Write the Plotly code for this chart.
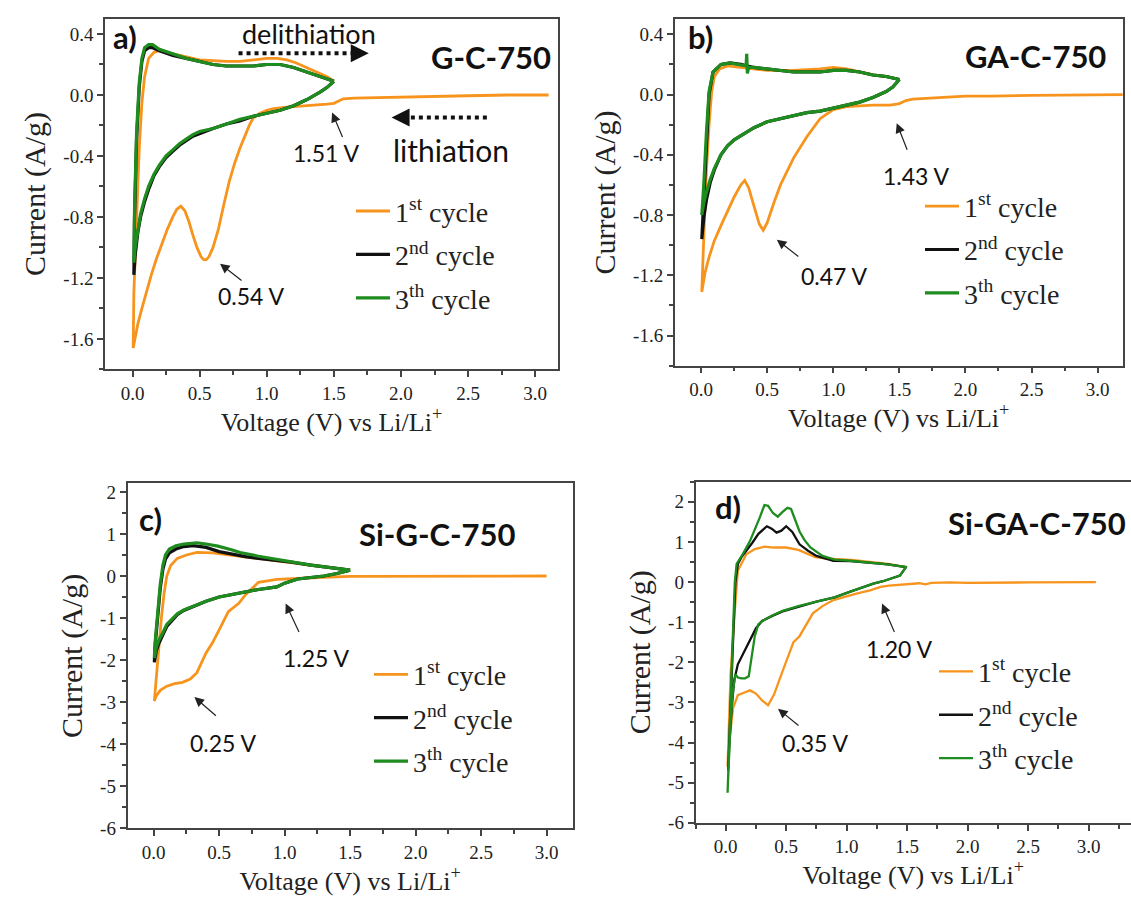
import plotly.graph_objects as go

# ---------------- data: cyclic voltammograms (V vs Li/Li+, A/g) ----------------
# a) G-C-750
a_c1_v = [3.10, 2.80, 2.50, 2.20, 2.00, 1.80, 1.65, 1.57, 1.53, 1.50, 1.45, 1.35, 1.25, 1.15, 1.05, 1.00,
          0.95, 0.90, 0.87, 0.84, 0.80, 0.76, 0.72, 0.68, 0.64, 0.60, 0.57, 0.55, 0.53, 0.51, 0.48, 0.45,
          0.42, 0.39, 0.36, 0.33, 0.30, 0.26, 0.22, 0.18, 0.14, 0.10, 0.07, 0.04, 0.02, 0.005,
          0.01, 0.03, 0.05, 0.07, 0.09, 0.12, 0.16, 0.20, 0.25, 0.30, 0.40, 0.50, 0.60, 0.70, 0.80,
          0.90, 1.00, 1.08, 1.15, 1.22, 1.30, 1.38, 1.45, 1.50]
a_c1_i = [0.00, 0.00, -0.005, -0.01, -0.01, -0.015, -0.02, -0.025, -0.04, -0.055, -0.06, -0.065, -0.07, -0.08,
          -0.09, -0.10, -0.12, -0.15, -0.20, -0.26, -0.35, -0.45, -0.57, -0.72, -0.88, -1.00, -1.06, -1.08,
          -1.08, -1.06, -1.00, -0.92, -0.83, -0.76, -0.73, -0.75, -0.80, -0.88, -0.97, -1.07, -1.18, -1.30,
          -1.40, -1.50, -1.58, -1.66,
          -1.30, -0.80, -0.35, -0.05, 0.12, 0.24, 0.28, 0.29, 0.28, 0.27, 0.25, 0.23, 0.225, 0.22, 0.22,
          0.23, 0.24, 0.24, 0.23, 0.21, 0.18, 0.15, 0.12, 0.09]
a_c2_v = [1.50, 1.45, 1.40, 1.30, 1.20, 1.10, 1.00, 0.90, 0.80, 0.70, 0.60, 0.50, 0.45, 0.40, 0.35, 0.30,
          0.25, 0.20, 0.16, 0.12, 0.09, 0.06, 0.04, 0.02, 0.01,
          0.015, 0.03, 0.05, 0.07, 0.09, 0.12, 0.15, 0.20, 0.30, 0.40, 0.50, 0.60, 0.70, 0.80, 0.90,
          1.00, 1.10, 1.20, 1.30, 1.40, 1.50]
a_c2_i = [0.09, 0.05, 0.02, -0.03, -0.07, -0.10, -0.12, -0.14, -0.17, -0.19, -0.22, -0.25, -0.27, -0.30,
          -0.33, -0.37, -0.41, -0.47, -0.53, -0.62, -0.70, -0.80, -0.90, -1.05, -1.18,
          -0.80, -0.30, 0.05, 0.22, 0.29, 0.31, 0.31, 0.29, 0.26, 0.24, 0.22, 0.20, 0.19, 0.19, 0.19,
          0.20, 0.20, 0.18, 0.15, 0.12, 0.09]
a_c3_v = [1.50, 1.45, 1.40, 1.30, 1.20, 1.10, 1.00, 0.90, 0.80, 0.70, 0.60, 0.50, 0.45, 0.40, 0.35, 0.30,
          0.25, 0.20, 0.16, 0.12, 0.09, 0.06, 0.04, 0.02, 0.01,
          0.015, 0.03, 0.05, 0.07, 0.09, 0.12, 0.15, 0.20, 0.30, 0.40, 0.50, 0.60, 0.70, 0.80, 0.90,
          1.00, 1.10, 1.20, 1.30, 1.40, 1.50]
a_c3_i = [0.09, 0.05, 0.02, -0.03, -0.07, -0.10, -0.12, -0.14, -0.16, -0.19, -0.22, -0.24, -0.26, -0.29,
          -0.32, -0.36, -0.40, -0.46, -0.52, -0.60, -0.68, -0.78, -0.88, -1.00, -1.10,
          -0.75, -0.25, 0.08, 0.24, 0.31, 0.33, 0.33, 0.30, 0.27, 0.24, 0.22, 0.20, 0.19, 0.19, 0.19,
          0.20, 0.20, 0.18, 0.15, 0.12, 0.09]

# b) GA-C-750
b_c1_v = [3.20, 2.80, 2.50, 2.20, 2.00, 1.80, 1.60, 1.55, 1.50, 1.43, 1.30, 1.10, 1.00, 0.90, 0.80, 0.70,
          0.60, 0.55, 0.50, 0.47, 0.44, 0.40, 0.36, 0.33, 0.30, 0.25, 0.20, 0.15, 0.10, 0.06, 0.03, 0.005,
          0.02, 0.04, 0.06, 0.08, 0.10, 0.14, 0.20, 0.30, 0.50, 0.70, 0.90, 1.00, 1.10, 1.20, 1.30, 1.40, 1.50]
b_c1_i = [0.00, 0.00, -0.005, -0.01, -0.01, -0.02, -0.03, -0.04, -0.06, -0.07, -0.07, -0.08, -0.10, -0.16,
          -0.28, -0.42, -0.60, -0.72, -0.85, -0.90, -0.86, -0.74, -0.62, -0.57, -0.60, -0.68, -0.77, -0.87,
          -0.97, -1.08, -1.18, -1.31,
          -0.95, -0.50, -0.20, 0.02, 0.12, 0.17, 0.19, 0.18, 0.16, 0.16, 0.17, 0.18, 0.17, 0.15, 0.13, 0.12, 0.10]
b_c2_v = [1.50, 1.45, 1.40, 1.30, 1.20, 1.10, 1.00, 0.90, 0.80, 0.70, 0.60, 0.50, 0.40, 0.30, 0.25, 0.20,
          0.15, 0.10, 0.07, 0.04, 0.02, 0.005,
          0.02, 0.04, 0.06, 0.09, 0.15, 0.22, 0.30, 0.40, 0.50, 0.70, 0.90, 1.00, 1.10, 1.20, 1.30, 1.40, 1.50]
b_c2_i = [0.10, 0.05, 0.02, -0.02, -0.05, -0.07, -0.09, -0.11, -0.12, -0.14, -0.16, -0.18, -0.22, -0.27,
          -0.30, -0.34, -0.40, -0.50, -0.58, -0.70, -0.82, -0.96,
          -0.70, -0.30, 0.00, 0.15, 0.20, 0.21, 0.20, 0.18, 0.17, 0.15, 0.15, 0.16, 0.16, 0.15, 0.13, 0.12, 0.10]
b_c3_v = [1.50, 1.45, 1.40, 1.30, 1.20, 1.10, 1.00, 0.90, 0.80, 0.70, 0.60, 0.50, 0.40, 0.30, 0.25, 0.20,
          0.15, 0.10, 0.07, 0.04, 0.02, 0.005,
          0.02, 0.04, 0.06, 0.09, 0.15, 0.22, 0.30, 0.34, 0.345, 0.35, 0.36, 0.40, 0.50, 0.70, 0.90, 1.00,
          1.10, 1.20, 1.30, 1.40, 1.50]
b_c3_i = [0.10, 0.05, 0.02, -0.02, -0.05, -0.07, -0.09, -0.11, -0.12, -0.14, -0.16, -0.18, -0.22, -0.27,
          -0.30, -0.34, -0.40, -0.49, -0.56, -0.65, -0.72, -0.80,
          -0.60, -0.25, 0.02, 0.15, 0.20, 0.21, 0.20, 0.19, 0.27, 0.14, 0.18, 0.18, 0.17, 0.15, 0.15, 0.16,
          0.16, 0.15, 0.13, 0.12, 0.10]

# c) Si-G-C-750
c_c1_v = [3.00, 2.50, 2.00, 1.80, 1.50, 1.30, 1.20, 1.10, 1.00, 0.94, 0.80, 0.70, 0.65, 0.57, 0.50, 0.45,
          0.40, 0.33, 0.28, 0.22, 0.16, 0.10, 0.05, 0.02, 0.005,
          0.02, 0.04, 0.06, 0.08, 0.10, 0.13, 0.18, 0.25, 0.33, 0.45, 0.60, 0.74, 0.90, 1.10, 1.30, 1.50]
c_c1_i = [0.00, 0.00, 0.00, -0.005, -0.01, -0.03, -0.04, -0.05, -0.06, -0.08, -0.15, -0.45, -0.65, -0.85,
          -1.28, -1.58, -1.83, -2.30, -2.45, -2.53, -2.56, -2.62, -2.72, -2.85, -2.97,
          -2.40, -1.70, -0.96, -0.40, 0.00, 0.25, 0.42, 0.50, 0.56, 0.55, 0.50, 0.44, 0.38, 0.30, 0.22, 0.14]
c_c2_v = [1.50, 1.40, 1.30, 1.20, 1.10, 1.00, 0.94, 0.80, 0.70, 0.60, 0.50, 0.40, 0.35, 0.30, 0.23, 0.18,
          0.13, 0.10, 0.07, 0.04, 0.02, 0.005,
          0.01, 0.03, 0.05, 0.07, 0.09, 0.12, 0.17, 0.23, 0.30, 0.40, 0.50, 0.60, 0.70, 0.80, 0.93, 1.05,
          1.20, 1.35, 1.50]
c_c2_i = [0.14, 0.06, 0.00, -0.03, -0.07, -0.17, -0.26, -0.32, -0.38, -0.44, -0.50, -0.60, -0.66, -0.73,
          -0.82, -0.92, -1.08, -1.20, -1.40, -1.60, -1.78, -2.05,
          -1.70, -1.00, -0.30, 0.15, 0.40, 0.55, 0.64, 0.70, 0.72, 0.68, 0.58, 0.52, 0.46, 0.42, 0.38, 0.33,
          0.26, 0.20, 0.14]
c_c3_v = [1.50, 1.40, 1.30, 1.20, 1.10, 1.00, 0.94, 0.80, 0.70, 0.60, 0.50, 0.40, 0.35, 0.30, 0.23, 0.18,
          0.13, 0.10, 0.07, 0.04, 0.02, 0.005,
          0.01, 0.03, 0.05, 0.07, 0.09, 0.12, 0.17, 0.23, 0.33, 0.40, 0.49, 0.60, 0.66, 0.80, 0.93, 1.05,
          1.20, 1.35, 1.50]
c_c3_i = [0.14, 0.06, 0.00, -0.03, -0.07, -0.17, -0.26, -0.32, -0.38, -0.44, -0.50, -0.60, -0.66, -0.73,
          -0.81, -0.90, -1.05, -1.15, -1.35, -1.52, -1.70, -1.95,
          -1.60, -0.90, -0.20, 0.25, 0.50, 0.64, 0.72, 0.76, 0.79, 0.76, 0.71, 0.62, 0.56, 0.47, 0.40, 0.34,
          0.26, 0.20, 0.14]

# d) Si-GA-C-750
d_c1_v = [3.06, 2.90, 2.50, 2.00, 1.85, 1.70, 1.65, 1.60, 1.55, 1.45, 1.35, 1.28, 1.20, 1.08, 0.89, 0.80,
          0.72, 0.61, 0.56, 0.46, 0.40, 0.35, 0.30, 0.25, 0.20, 0.15, 0.10, 0.06, 0.03, 0.015,
          0.04, 0.075, 0.10, 0.17, 0.24, 0.32, 0.40, 0.50, 0.60, 0.74, 0.85, 1.04, 1.20, 1.34, 1.49]
d_c1_i = [0.00, 0.00, -0.01, -0.02, -0.01, -0.02, -0.06, -0.03, -0.04, -0.06, -0.09, -0.12, -0.20, -0.29,
          -0.45, -0.60, -0.78, -1.35, -1.50, -2.30, -2.80, -3.07, -2.95, -2.78, -2.70, -2.76, -2.82, -3.15,
          -3.97, -4.60,
          -2.30, -0.70, 0.28, 0.69, 0.82, 0.88, 0.86, 0.86, 0.80, 0.62, 0.58, 0.55, 0.50, 0.45, 0.37]
d_c2_v = [1.49, 1.44, 1.30, 1.22, 1.03, 0.90, 0.75, 0.60, 0.47, 0.38, 0.30, 0.25, 0.20, 0.15, 0.12, 0.10,
          0.07, 0.05, 0.03, 0.02,
          0.04, 0.06, 0.08, 0.10, 0.13, 0.17, 0.22, 0.27, 0.34, 0.38, 0.42, 0.46, 0.50, 0.55, 0.61, 0.68,
          0.75, 0.89, 1.03, 1.20, 1.34, 1.49]
d_c2_i = [0.37, 0.16, 0.02, -0.04, -0.24, -0.38, -0.49, -0.62, -0.73, -0.85, -0.97, -1.15, -1.45, -1.75,
          -1.92, -2.05, -2.45, -3.10, -4.00, -4.70,
          -3.00, -1.50, 0.00, 0.45, 0.62, 0.77, 0.98, 1.20, 1.39, 1.33, 1.23, 1.28, 1.39, 1.25, 0.94, 0.78,
          0.65, 0.53, 0.52, 0.48, 0.44, 0.37]
d_c3_v = [1.49, 1.44, 1.30, 1.22, 1.03, 0.90, 0.75, 0.60, 0.47, 0.38, 0.31, 0.27, 0.24, 0.21, 0.19, 0.16,
          0.13, 0.10, 0.08, 0.06, 0.04, 0.025, 0.015,
          0.03, 0.045, 0.06, 0.075, 0.09, 0.14, 0.20, 0.24, 0.28, 0.32, 0.35, 0.39, 0.43, 0.47, 0.51, 0.54,
          0.57, 0.61, 0.65, 0.70, 0.80, 0.90, 1.03, 1.30, 1.50]
d_c3_i = [0.37, 0.16, 0.02, -0.04, -0.24, -0.38, -0.49, -0.60, -0.72, -0.84, -0.96, -1.05, -1.35, -1.90,
          -2.35, -2.40, -2.40, -2.38, -2.30, -2.70, -3.50, -4.50, -5.25,
          -4.00, -2.50, -1.00, 0.00, 0.45, 0.69, 1.02, 1.30, 1.60, 1.92, 1.90, 1.72, 1.63, 1.75, 1.85, 1.82,
          1.60, 1.26, 1.05, 0.86, 0.65, 0.56, 0.53, 0.45, 0.37]

cycle_names = ["1<sup>st</sup> cycle", "2<sup>nd</sup> cycle", "3<sup>th</sup> cycle"]
cycle_colors = ["#F7941D", "#111111", "#1E8C1E"]

x_tick_vals = [0.0, 0.5, 1.0, 1.5, 2.0, 2.5, 3.0]
x_tick_text = ["0.0", "0.5", "1.0", "1.5", "2.0", "2.5", "3.0"]
ab_y_tick_vals = [0.4, 0.0, -0.4, -0.8, -1.2, -1.6]
ab_y_tick_text = ["0.4", "0.0", "-0.4", "-0.8", "-1.2", "-1.6"]
cd_y_tick_vals = [2, 1, 0, -1, -2, -3, -4, -5, -6]
cd_y_tick_text = ["2", "1", "0", "-1", "-2", "-3", "-4", "-5", "-6"]

sample_names = ["G-C-750", "GA-C-750", "Si-G-C-750", "Si-GA-C-750"]
panel_letters = ["a)", "b)", "c)", "d)"]

# ---------------- layout geometry (pixels on a 1131 x 907 page) ----------------
W, H = 1131, 907
SERIF = "Liberation Serif, Times New Roman, serif"
SANS = "Lato, Open Sans, sans-serif"

panels = [
    # frame box in px (left, right, top, bottom), axis ranges, y ticks, line widths
    dict(box=(105, 558, 17, 372.7), xr=[-0.205, 3.17], yr=[-1.8, 0.5], yt=(ab_y_tick_vals, ab_y_tick_text),
         ymin=0.2, data=[(a_c1_v, a_c1_i), (a_c2_v, a_c2_i), (a_c3_v, a_c3_i)], lw=[2.8, 3.2, 3.2], rmirror=True),
    dict(box=(674.7, 1122.7, 17.5, 369), xr=[-0.2, 3.19], yr=[-1.8, 0.5], yt=(ab_y_tick_vals, ab_y_tick_text),
         ymin=0.2, data=[(b_c1_v, b_c1_i), (b_c2_v, b_c2_i), (b_c3_v, b_c3_i)], lw=[2.8, 3.2, 3.2], rmirror=True),
    dict(box=(127.5, 572.7, 488.5, 838.3), xr=[-0.2, 3.2], yr=[-6, 2.2], yt=(cd_y_tick_vals, cd_y_tick_text),
         ymin=0.5, data=[(c_c1_v, c_c1_i), (c_c2_v, c_c2_i), (c_c3_v, c_c3_i)], lw=[2.8, 3.2, 3.2], rmirror=True),
    dict(box=(695.5, 1131, 486.7, 832.7), xr=[-0.25, 3.35], yr=[-6, 2.5], yt=(cd_y_tick_vals, cd_y_tick_text),
         ymin=0.5, data=[(d_c1_v, d_c1_i), (d_c2_v, d_c2_i), (d_c3_v, d_c3_i)], lw=[2.3, 2.3, 2.3], rmirror=False),
]

# legend anchor: left of line sample (px), centre of first row (px)
legend_pos = [(359, 208), (928, 203), (377, 678), (942, 675)]

fig = go.Figure()
layout = dict(width=W, height=H, margin=dict(l=0, r=0, t=0, b=0),
              paper_bgcolor="white", plot_bgcolor="white", annotations=[], shapes=[])

for k, p in enumerate(panels):
    n = "" if k == 0 else str(k + 1)
    xa, ya = "x" + n, "y" + n
    lg = "legend" + n
    l, r, t, b = p["box"]
    for j, (v, i) in enumerate(p["data"]):
        fig.add_trace(go.Scatter(
            x=v, y=i, mode="lines", name=cycle_names[j],
            line=dict(color=cycle_colors[j], width=p["lw"][j]),
            xaxis=xa, yaxis=ya, legend=lg, legendgroup=f"{k}-{j}", showlegend=True))
    axis_common = dict(showline=True, linecolor="#444", linewidth=1.5, ticks="outside", ticklen=6,
                       tickwidth=1.5, tickcolor="#444", showgrid=False, zeroline=False,
                       tickfont=dict(family=SERIF, size=19, color="#222"))
    layout["xaxis" + n] = dict(
        domain=[l / W, r / W], range=p["xr"], anchor=ya, mirror=True,
        tickmode="array", tickvals=x_tick_vals, ticktext=x_tick_text,
        minor=dict(ticks="outside", ticklen=4, tickwidth=1.5, tickcolor="#444", dtick=0.25, tick0=0),
        title=dict(text="Voltage (V) vs Li/Li<sup>+</sup>", font=dict(family=SERIF, size=26, color="#222"),
                   standoff=8),
        **axis_common)
    layout["yaxis" + n] = dict(
        domain=[1 - b / H, 1 - t / H], range=p["yr"], anchor=xa, mirror=p["rmirror"],
        tickmode="array", tickvals=p["yt"][0], ticktext=p["yt"][1],
        minor=dict(ticks="outside", ticklen=4, tickwidth=1.5, tickcolor="#444", dtick=p["ymin"], tick0=0),
        title=dict(text="Current (A/g)", font=dict(family=SERIF, size=30, color="#222"), standoff=9),
        **axis_common)
    lx, ly = legend_pos[k]
    layout[lg] = dict(x=(lx - 8) / W, y=1 - (ly - 21) / H, xanchor="left", yanchor="top",
                      bgcolor="rgba(0,0,0,0)", borderwidth=0, tracegroupgap=4,
                      font=dict(family=SERIF, size=28, color="#222"), itemwidth=34)

# panel letters and sample names
letter_pos = [(0.013, 0.949), (0.025, 0.95), (0.021, 0.896), (0.04, 0.927)]
name_pos = [(0.989, 0.89, "right"), (0.967, 0.893, "right"), (0.695, 0.853, "center"), (0.993, 0.878, "right")]
for k in range(4):
    n = "" if k == 0 else str(k + 1)
    layout["annotations"].append(dict(
        xref=f"x{n} domain", yref=f"y{n} domain", x=letter_pos[k][0], y=letter_pos[k][1],
        text=f"<b>{panel_letters[k]}</b>", showarrow=False, xanchor="left", yanchor="middle",
        font=dict(family=SANS, size=31, color="#111")))
    layout["annotations"].append(dict(
        xref=f"x{n} domain", yref=f"y{n} domain", x=name_pos[k][0], y=name_pos[k][1],
        text=f"<b>{sample_names[k]}</b>", showarrow=False, xanchor=name_pos[k][2], yanchor="middle",
        font=dict(family=SANS, size=31, color="#111")))

# peak labels with arrows: (panel, label, label x, label y, head x, head y, tail dx, tail dy)
peak_notes = [
    (0, "1.51 V", 1.442, -0.381, 1.487, -0.115, 11, 26),
    (0, "0.54 V", 0.89, -1.32, 0.652, -1.107, 23, 18),
    (1, "1.43 V", 1.631, -0.538, 1.48, -0.19, 11, 28),
    (1, "0.47 V", 1.011, -1.205, 0.573, -0.963, 23, 18),
    (2, "1.25 V", 1.245, -1.944, 1.008, -0.656, 14, 30),
    (2, "0.25 V", 0.535, -3.98, 0.311, -2.88, 23, 20),
    (3, "1.20 V", 1.44, -1.68, 1.292, -0.535, 13, 30),
    (3, "0.35 V", 0.746, -4.02, 0.432, -3.16, 22, 18),
]
for k, txt, tx, ty, hx, hy, dx, dy in peak_notes:
    n = "" if k == 0 else str(k + 1)
    layout["annotations"].append(dict(
        xref="x" + n, yref="y" + n, x=tx, y=ty, text=txt, showarrow=False,
        font=dict(family=SANS, size=23, color="#111")))
    layout["annotations"].append(dict(
        xref="x" + n, yref="y" + n, x=hx, y=hy, text="", showarrow=True, ax=dx, ay=dy,
        arrowhead=2, arrowsize=1.6, arrowwidth=1.2, arrowcolor="#222"))

# scan direction markers in panel a
layout["annotations"].append(dict(xref="x", yref="y", x=1.317, y=0.404, text="delithiation",
                                  showarrow=False, font=dict(family=SANS, size=27, color="#111")))
layout["annotations"].append(dict(xref="x", yref="y", x=2.373, y=-0.362, text="lithiation",
                                  showarrow=False, font=dict(family=SANS, size=30, color="#111")))
layout["shapes"].append(dict(type="line", xref="x", yref="y", x0=0.79, x1=1.66, y0=0.274, y1=0.274,
                             line=dict(color="#111", width=4, dash="dot")))
layout["shapes"].append(dict(type="line", xref="x", yref="y", x0=2.64, x1=2.03, y0=-0.147, y1=-0.147,
                             line=dict(color="#111", width=4, dash="dot")))
layout["annotations"].append(dict(xref="x", yref="y", x=1.76, y=0.274, text="", showarrow=True,
                                  ax=-16, ay=0, arrowhead=2, arrowsize=1.2, arrowwidth=3, arrowcolor="#111"))
layout["annotations"].append(dict(xref="x", yref="y", x=1.93, y=-0.147, text="", showarrow=True,
                                  ax=16, ay=0, arrowhead=2, arrowsize=1.2, arrowwidth=3, arrowcolor="#111"))

fig.update_layout(**layout)
fig.write_html("out.html")
